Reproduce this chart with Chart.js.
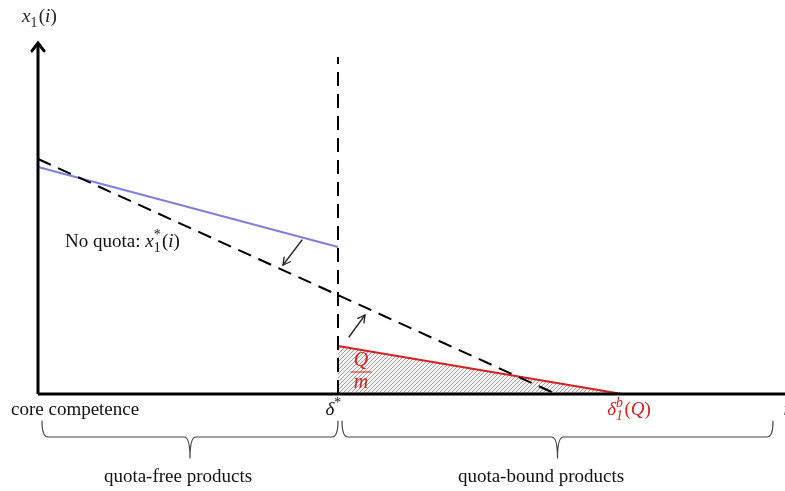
<!DOCTYPE html>
<html>
<head>
<meta charset="utf-8">
<script src="https://cdn.jsdelivr.net/npm/chart.js@4"></script>
<style>
  body { margin: 0; background: #fff; }
  #wrap { width: 785px; height: 491px; }
</style>
</head>
<body>
<div id="wrap"><canvas id="myChart"></canvas></div>
<script>
// schematic units: x = product index i, y = quantity x1(i)
const deltaStar = 300;
const deltaB = 584;
const axisMaxX = 747;
const axisMaxY = 351;

const noQuotaX = [0, 518];
const noQuotaY = [235, 0];
const quotaFreeX = [0, deltaStar];
const quotaFreeY = [227, 147];
const quotaBoundX = [deltaStar, deltaB];
const quotaBoundY = [48, 0];
const cutoffY = [0, 337];

// arrows: [fromX, fromY, toX, toY]
const arrows = [
    [264, 154, 245, 129],
    [311, 57, 327, 79]
];

const serif = '"Liberation Serif", "DejaVu Serif", serif';
const fs = 19;

function pts(xs, ys) {
    return xs.map((x, i) => ({ x: x, y: ys[i] }));
}

// hatch pattern for the quota area
const pc = document.createElement('canvas');
pc.width = 4; pc.height = 4;
const pctx = pc.getContext('2d');
pctx.fillStyle = '#f4f4f4';
pctx.fillRect(0, 0, 4, 4);
pctx.strokeStyle = '#a2a2a2';
pctx.lineWidth = 1;
pctx.beginPath();
pctx.moveTo(0, 4); pctx.lineTo(4, 0);
pctx.moveTo(-1, 1); pctx.lineTo(1, -1);
pctx.moveTo(3, 5); pctx.lineTo(5, 3);
pctx.stroke();
const hatch = pctx.createPattern(pc, 'repeat');

// draw a row of text pieces (italic, sub/superscripts)
function richText(ctx, x, y, parts, size, color, align) {
    const f = (it, s) => (it ? 'italic ' : '') + s + 'px ' + serif;
    let w = 0;
    parts.forEach(p => {
        if (p.t) { ctx.font = f(p.i, size); p.w = ctx.measureText(p.t).width; }
        else {
            ctx.font = f(p.i, size * 0.72);
            p.w = Math.max(p.sub ? ctx.measureText(p.sub).width : 0, p.sup ? ctx.measureText(p.sup).width : 0) + 1.5;
        }
        w += p.w;
    });
    let cx = align === 'center' ? x - w / 2 : x;
    ctx.fillStyle = color;
    ctx.textBaseline = 'alphabetic';
    ctx.textAlign = 'left';
    parts.forEach(p => {
        if (p.t) { ctx.font = f(p.i, size); ctx.fillText(p.t, cx, y); }
        else {
            ctx.font = f(p.i, size * 0.72);
            if (p.sub) ctx.fillText(p.sub, cx, y + size * 0.25);
            if (p.sup) ctx.fillText(p.sup, cx, y - size * 0.4);
        }
        cx += p.w;
    });
}

function brace(ctx, x1, x2, yT, yM, yB) {
    const xm = (x1 + x2) / 2;
    const r = 6;
    ctx.beginPath();
    ctx.moveTo(x1, yT);
    ctx.quadraticCurveTo(x1, yM, x1 + r, yM);
    ctx.lineTo(xm - r, yM);
    ctx.quadraticCurveTo(xm, yM, xm, yB);
    ctx.moveTo(x2, yT);
    ctx.quadraticCurveTo(x2, yM, x2 - r, yM);
    ctx.lineTo(xm + r, yM);
    ctx.quadraticCurveTo(xm, yM, xm, yB);
    ctx.stroke();
}

function head(ctx, fx, fy, tx, ty, len, ang) {
    const a = Math.atan2(ty - fy, tx - fx);
    ctx.beginPath();
    ctx.moveTo(tx - len * Math.cos(a - ang), ty - len * Math.sin(a - ang));
    ctx.lineTo(tx, ty);
    ctx.lineTo(tx - len * Math.cos(a + ang), ty - len * Math.sin(a + ang));
    ctx.stroke();
}

const annotations = {
    id: 'annotations',
    afterDatasetsDraw(chart) {
        const ctx = chart.ctx;
        const xs = chart.scales.x, ys = chart.scales.y;
        const X = v => xs.getPixelForValue(v), Y = v => ys.getPixelForValue(v);
        ctx.save();
        ctx.lineCap = 'round';

        // axis arrowheads
        ctx.strokeStyle = '#000';
        ctx.lineWidth = 3;
        head(ctx, X(0), Y(0), X(0), Y(axisMaxY), 10, 0.65);
        head(ctx, X(0), Y(0), X(axisMaxX + 12), Y(0), 10, 0.65);

        // shift arrows
        ctx.lineWidth = 1.3;
        ctx.strokeStyle = '#222';
        arrows.forEach(a => {
            ctx.beginPath();
            ctx.moveTo(X(a[0]), Y(a[1]));
            ctx.lineTo(X(a[2]), Y(a[3]));
            ctx.stroke();
            head(ctx, X(a[0]), Y(a[1]), X(a[2]), Y(a[3]), 8, 0.5);
        });

        // labels
        richText(ctx, 22, 22, [{ t: 'x', i: 1 }, { sub: '1' }, { t: '(' }, { t: 'i', i: 1 }, { t: ')' }], fs, '#222', 'left');
        richText(ctx, 65, 247, [{ t: 'No quota: ' }, { t: 'x', i: 1 }, { sub: '1', sup: '*' }, { t: '(' }, { t: 'i', i: 1 }, { t: ')' }], fs, '#111', 'left');
        richText(ctx, 11, 415, [{ t: 'core competence' }], fs, '#111', 'left');
        richText(ctx, X(deltaStar) - 4, 415, [{ t: 'δ', i: 1 }, { sup: '*' }], fs, '#111', 'center');
        richText(ctx, X(deltaB) + 7, 415, [{ t: 'δ', i: 1 }, { sub: '1', sup: 'b', i: 1 }, { t: '(' }, { t: 'Q', i: 1 }, { t: ')' }], fs, '#d42020', 'center');
        richText(ctx, 786, 415, [{ t: 'i', i: 1 }], fs, '#111', 'center');

        // Q/m fraction
        const fx = X(deltaStar) + 23;
        richText(ctx, fx, 366, [{ t: 'Q', i: 1 }], 20, '#d42020', 'center');
        ctx.strokeStyle = '#d42020';
        ctx.lineWidth = 1.2;
        ctx.beginPath();
        ctx.moveTo(fx - 10, 372); ctx.lineTo(fx + 10, 372);
        ctx.stroke();
        richText(ctx, fx, 388, [{ t: 'm', i: 1 }], 20, '#d42020', 'center');

        // braces
        ctx.strokeStyle = '#444';
        ctx.lineWidth = 1.2;
        brace(ctx, X(4), X(deltaStar), 421, 437, 458);
        brace(ctx, X(deltaStar + 4), X(735), 421, 437, 458);
        richText(ctx, 178, 482, [{ t: 'quota-free products' }], fs, '#111', 'center');
        richText(ctx, 541, 482, [{ t: 'quota-bound products' }], fs, '#111', 'center');

        ctx.restore();
    }
};

const ctx = document.getElementById('myChart').getContext('2d');
new Chart(ctx, {
    type: 'scatter',
    data: {
        // first dataset is drawn on top
        datasets: [
            {
                label: 'x axis',
                data: pts([0, axisMaxX + 12], [0, 0]),
                showLine: true,
                borderColor: '#000',
                borderWidth: 3,
                pointRadius: 0,
                clip: false
            },
            {
                label: 'y axis',
                data: pts([0, 0], [0, axisMaxY]),
                showLine: true,
                borderColor: '#000',
                borderWidth: 3,
                pointRadius: 0,
                clip: false
            },
            {
                label: 'no quota',
                data: pts(noQuotaX, noQuotaY),
                showLine: true,
                borderColor: '#000',
                borderWidth: 2,
                borderDash: [14, 8],
                pointRadius: 0,
                clip: false
            },
            {
                label: 'cutoff',
                data: pts([deltaStar, deltaStar], cutoffY),
                showLine: true,
                borderColor: '#000',
                borderWidth: 2,
                borderDash: [14, 8],
                pointRadius: 0,
                clip: false
            },
            {
                label: 'quota-free',
                data: pts(quotaFreeX, quotaFreeY),
                showLine: true,
                borderColor: '#7f7fd6',
                borderWidth: 2,
                pointRadius: 0,
                clip: false
            },
            {
                label: 'quota-bound',
                data: pts(quotaBoundX, quotaBoundY),
                showLine: true,
                borderColor: '#d42020',
                borderWidth: 1.8,
                backgroundColor: hatch,
                fill: 'origin',
                pointRadius: 0,
                clip: false
            }
        ]
    },
    options: {
        responsive: true,
        maintainAspectRatio: false,
        animation: false,
        layout: { padding: { left: 38, top: 43, right: 0, bottom: 97 } },
        scales: {
            x: { type: 'linear', min: 0, max: axisMaxX, display: false },
            y: { type: 'linear', min: 0, max: axisMaxY, display: false }
        },
        plugins: {
            legend: { display: false },
            tooltip: { enabled: false }
        }
    },
    plugins: [annotations]
});
</script>
</body>
</html>
